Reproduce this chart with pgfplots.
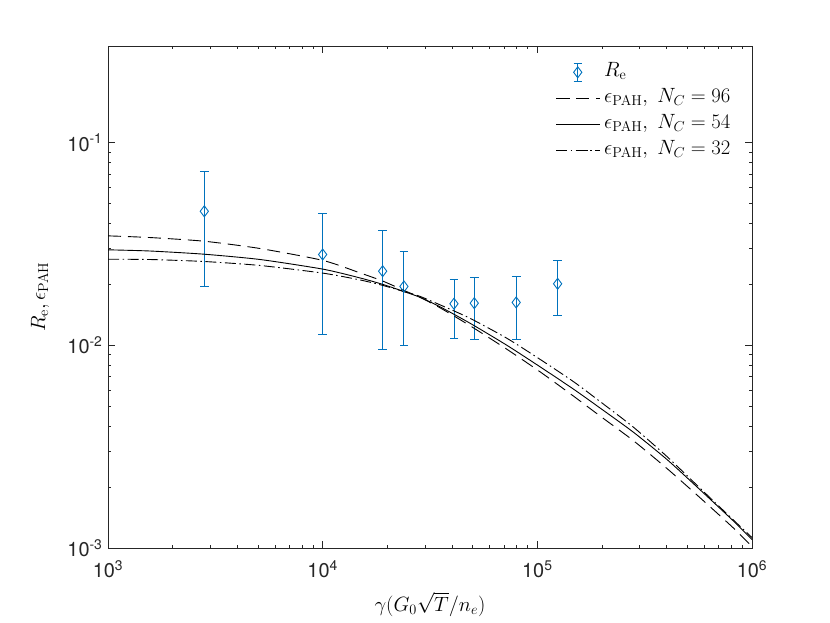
\documentclass[border=0pt]{standalone}
\usepackage[no-math]{fontspec}
\setmainfont{TeX Gyre Heros}
\usepackage{pgfplots}
\pgfplotsset{compat=1.18}
\definecolor{mblue}{rgb}{0,0.447,0.741}
\definecolor{axgray}{rgb}{0.15,0.15,0.15}
\begin{document}
\begin{tikzpicture}
\begin{axis}[
  at={(0,0)}, anchor=south west,
  scale only axis, width=644bp, height=502bp,
  xmode=log, ymode=log,
  xmin=1e3, xmax=1e6, ymin=1e-3, ymax=0.3,
  xtick={1e3,1e4,1e5,1e6},
  xticklabels={10\textsuperscript{3},10\textsuperscript{4},10\textsuperscript{5},10\textsuperscript{6}},
  ytick={1e-3,1e-2,1e-1},
  yticklabels={10\textsuperscript{-3},10\textsuperscript{-2},10\textsuperscript{-1}},
  tick label style={font=\fontsize{20}{23}\selectfont, color=axgray},
  xticklabel style={yshift=-9bp},
  yticklabel style={xshift=-2bp},
  major tick length=7bp, minor tick length=3.5bp,
  axis line style={axgray, line width=0.6bp},
  every tick/.style={axgray, line width=0.6bp},
  xlabel={$\gamma(G_0\sqrt{T}/n_e)$},
  ylabel={$R_\mathrm{e}, \epsilon_\mathrm{PAH}$},
  label style={font=\fontsize{20.5}{24}\selectfont},
  xlabel style={at={(axis description cs:0.5,-0.1255)}, anchor=base},
  ylabel style={at={(axis description cs:-0.0978,0.5)}, anchor=base},
  legend cell align=left,
  legend style={at={(axis description cs:0.695,0.970)}, anchor=north west,
    draw=none, fill=none, inner sep=0pt, row sep=4bp, column sep=3bp,
    font=\fontsize{21.5}{24}\selectfont,
    nodes={inner sep=1.5bp, text height=14bp, text depth=5bp}},
  legend image code/.code={\draw[#1] plot coordinates {(0bp,0bp) (21.5bp,0bp) (43bp,0bp)};},
]
\addplot[mblue, only marks, mark=diamond, mark size=5.5bp,
  mark options={solid, line width=0.9bp, fill=none},
  legend image code/.code={%
    \path (0bp,0bp) (43bp,0bp);
    \draw[mblue, line width=0.9bp] (21.5bp,-9bp) -- (21.5bp,9bp)
      (17.5bp,-9bp) -- (25.5bp,-9bp) (17.5bp,9bp) -- (25.5bp,9bp);
    \draw[mblue, line width=0.9bp, mark=diamond, mark size=5.5bp, mark options={solid, fill=white}] plot coordinates {(21.5bp,0bp)};
    \draw[mblue, line width=0.9bp] (21.5bp,-5.5bp) -- (21.5bp,5.5bp);},
  error bars/.cd, y dir=both, y explicit,
  error bar style={line width=0.9bp, mblue},
  error mark options={mblue, rotate=90, mark size=4.3bp, line width=0.9bp}]
  coordinates {
  (2809,0.04587) +- (0,0.0263)
  (10000,0.02807) +- (0,0.0168)
  (19030,0.02323) +- (0,0.0137)
  (23910,0.01953) +- (0,0.0095)
  (40890,0.01604) +- (0,0.0052)
  (50830,0.01615) +- (0,0.0054)
  (79730,0.01628) +- (0,0.0056)
  (124300,0.02013) +- (0,0.0061)
  };
\addlegendentry{$R_\mathrm{e}$}
\addplot[black, line width=0.9bp, dash pattern=on 13bp off 7bp, no marks, smooth, tension=0.4] coordinates {
  (1000,0.03470) (1570,0.03404) (2803,0.03265) (5112,0.03005) (10050,0.02623)
  (14960,0.02276) (19090,0.02074) (24250,0.01855) (28480,0.01724) (35300,0.01530)
  (48700,0.01248) (72230,0.009557) (103300,0.007388) (147700,0.005608) (196700,0.004469)
  (280300,0.003385) (402400,0.002464) (575300,0.001763) (820000,0.001254) (1000000,0.001017)
  };
\addlegendentry{$\epsilon_\mathrm{PAH},\ N_C=96$}
\addplot[black, line width=0.9bp, solid, no marks, smooth, tension=0.4] coordinates {
  (1000,0.02961) (1570,0.02921) (2803,0.02817) (5112,0.02652) (10050,0.02376)
  (14960,0.02150) (19090,0.01998) (24250,0.01834) (28480,0.01724) (35300,0.01548)
  (48700,0.01284) (72230,0.01000) (103300,0.00782) (147700,0.006072) (196700,0.004894)
  (280300,0.003727) (402400,0.002729) (575300,0.001930) (820000,0.001358) (1000000,0.001101)
  };
\addlegendentry{$\epsilon_\mathrm{PAH},\ N_C=54$}
\addplot[black, line width=0.9bp, dash pattern=on 11bp off 3.5bp on 1.5bp off 3.5bp, no marks, smooth, tension=0.4] coordinates {
  (1000,0.02661) (1570,0.02652) (2803,0.02593) (5112,0.02478) (10050,0.02271)
  (14960,0.02102) (19090,0.01975) (24250,0.01834) (28480,0.01743) (35300,0.01583)
  (48700,0.01358) (72230,0.01083) (103300,0.008511) (147700,0.00661) (196700,0.005268)
  (280300,0.003947) (402400,0.002822) (575300,0.001964) (820000,0.001373) (1000000,0.001126)
  };
\addlegendentry{$\epsilon_\mathrm{PAH},\ N_C=32$}
\end{axis}
\path[use as bounding box] (-108bp,-75bp) rectangle (722bp,548bp);
\end{tikzpicture}
\end{document}
